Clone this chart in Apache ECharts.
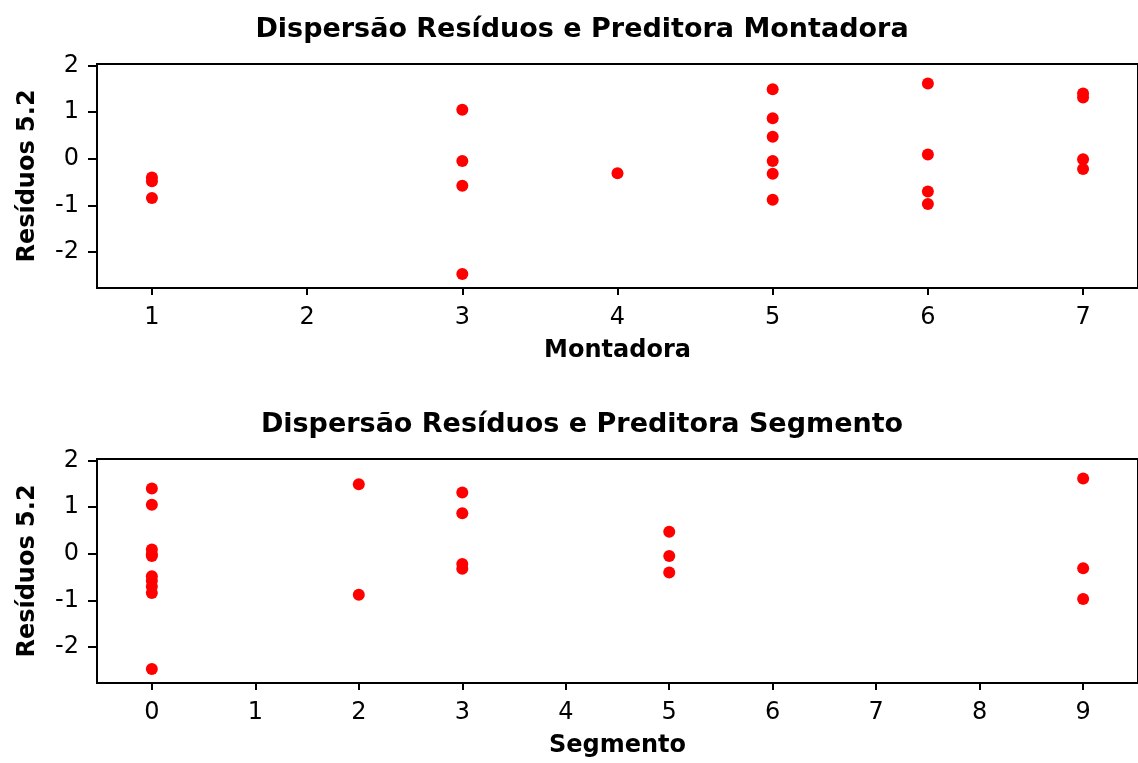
<!DOCTYPE html>
<html>
<head>
<meta charset="utf-8">
<script src="https://cdn.jsdelivr.net/npm/echarts@6/dist/echarts.min.js"></script>
<style>
  html, body { margin: 0; padding: 0; background: #fff; }
  #chart { width: 1138px; height: 763px; }
</style>
</head>
<body>
<div id="chart"></div>
<script>
// Residuals of model 5.2 with the predictor values of each observation
const montadora = [1, 1, 1, 3, 3, 3, 3, 4, 5, 5, 5, 5, 5, 5, 6, 6, 6, 6, 7, 7, 7, 7];
const segmento  = [5, 0, 0, 0, 0, 0, 0, 9, 2, 3, 5, 5, 3, 2, 9, 0, 0, 9, 0, 3, 0, 3];
const residuos  = [-0.40, -0.48, -0.84, 1.05, -0.05, -0.58, -2.47, -0.31, 1.49, 0.87, 0.47, -0.05,
                   -0.32, -0.88, 1.61, 0.09, -0.70, -0.97, 1.40, 1.31, -0.01, -0.22];

const residuoTicks   = [-2, -1, 0, 1, 2];
const montadoraTicks = [1, 2, 3, 4, 5, 6, 7];
const segmentoTicks  = [0, 1, 2, 3, 4, 5, 6, 7, 8, 9];

const titles = ['Dispersão Resíduos e Preditora Montadora', 'Dispersão Resíduos e Preditora Segmento'];
const xNames = ['Montadora', 'Segmento'];
const yName = 'Resíduos 5.2';

const FONT = 'DejaVu Sans';
const panelOffset = 395;

function xAxisFor(i, min, max, ticks) {
  return {
    type: 'value', gridIndex: i, min: min, max: max,
    name: xNames[i], nameLocation: 'middle', nameGap: 51,
    nameTextStyle: { fontFamily: FONT, fontWeight: 'bold', fontSize: 24, color: '#000' },
    axisLine: { show: false, onZero: false },
    axisTick: { show: true, inside: false, length: 7, customValues: ticks, lineStyle: { color: '#000', width: 2 } },
    axisLabel: { customValues: ticks, margin: 18, fontFamily: FONT, fontSize: 24, color: '#000' },
    splitLine: { show: false }
  };
}

function yAxisFor(i) {
  return {
    type: 'value', gridIndex: i, min: -2.77, max: 2.03,
    name: yName, nameLocation: 'middle', nameGap: 57, nameRotate: 90,
    nameTextStyle: { fontFamily: FONT, fontWeight: 'bold', fontSize: 24, color: '#000' },
    axisLine: { show: false, onZero: false },
    axisTick: { show: true, inside: false, length: 9, customValues: residuoTicks, lineStyle: { color: '#000', width: 2 } },
    axisLabel: { customValues: residuoTicks, margin: 18, fontFamily: FONT, fontSize: 24, color: '#000' },
    splitLine: { show: false }
  };
}

const gridBase = { left: 97, width: 1045, height: 224, show: true, borderColor: '#000', borderWidth: 2, backgroundColor: '#fff' };

const pointStyle = { color: '#ff0000', opacity: 1 };

const option = {
  animation: false,
  backgroundColor: '#fff',
  title: titles.map((t, i) => ({
    text: t, left: 577, top: 11 + i * panelOffset, textAlign: 'center',
    textStyle: { fontFamily: FONT, fontWeight: 'bold', fontSize: 27, color: '#000' }
  })),
  grid: [
    Object.assign({}, gridBase, { top: 64 }),
    Object.assign({}, gridBase, { top: 64 + panelOffset })
  ],
  xAxis: [
    xAxisFor(0, 0.646, 7.354, montadoraTicks),
    xAxisFor(1, -0.53, 9.53, segmentoTicks)
  ],
  yAxis: [yAxisFor(0), yAxisFor(1)],
  series: [
    {
      type: 'scatter', xAxisIndex: 0, yAxisIndex: 0,
      symbol: 'circle', symbolSize: 12, itemStyle: pointStyle,
      data: montadora.map((m, k) => [m, residuos[k]])
    },
    {
      type: 'scatter', xAxisIndex: 1, yAxisIndex: 1,
      symbol: 'circle', symbolSize: 12, itemStyle: pointStyle,
      data: segmento.map((s, k) => [s, residuos[k]])
    }
  ]
};

const chart = echarts.init(document.getElementById('chart'), null, { renderer: 'canvas' });
chart.setOption(option);
</script>
</body>
</html>
